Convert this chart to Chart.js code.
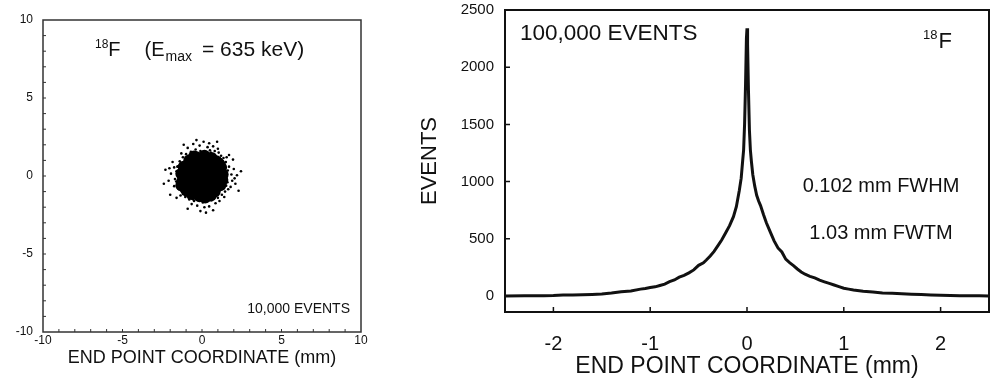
<!DOCTYPE html>
<html>
<head>
<meta charset="utf-8">
<script src="https://cdn.jsdelivr.net/npm/chart.js@4.4.0/dist/chart.umd.min.js"></script>
<style>
  html, body { margin: 0; padding: 0; background: #fff; }
  #left { position: absolute; left: 0; top: 0; width: 380px; height: 384px; }
  #right { position: absolute; left: 400px; top: 0; width: 604px; height: 384px; }
</style>
</head>
<body>
<div id="left"><canvas id="scatterChart"></canvas></div>
<div id="right"><canvas id="profileChart"></canvas></div>
<script>
// Left panel: end point positions (mm)
const scatterTicks = [-10, -5, 0, 5, 10];
const scatterMinor = [-9, -8, -7, -6, -5, -4, -3, -2, -1, 0, 1, 2, 3, 4, 5, 6, 7, 8, 9];
const coreCentre = [[0, 0], [0.3, 0.2], [-0.3, -0.2]];
const coreEdge = [
    [1.3, 0.1], [1.2, 0.55], [1.0, 0.85], [0.6, 1.15], [0.15, 1.3], [-0.35, 1.2],
    [-0.8, 1.0], [-1.15, 0.6], [-1.3, 0.15], [-1.25, -0.35], [-1.05, -0.8], [-0.65, -1.15],
    [-0.15, -1.3], [0.35, -1.25], [0.8, -1.0], [1.15, -0.6], [1.28, -0.25], [0.9, 0.95],
    [-0.95, -0.95], [0.55, -1.25], [-1.3, -0.6], [1.1, 0.75], [-0.5, 1.25], [0.2, -1.38]
];
const outerPoints = [
    [1.55, 0.2], [1.6, -0.4], [1.7, 0.6], [1.5, 0.9], [1.85, 0.1], [1.9, -0.3], [2.0, 0.45],
    [2.2, 0.05], [2.45, 0.3], [1.65, -0.85], [1.45, -1.0], [1.8, -0.7], [2.1, -0.5], [1.35, 1.15],
    [1.2, 1.3], [1.55, 1.2], [1.05, 1.5], [0.8, 1.6], [0.5, 1.65], [0.2, 1.55], [0.35, 1.85],
    [0.7, 1.9], [1.0, 1.75], [-0.1, 1.6], [-0.4, 1.7], [-0.7, 1.55], [-0.15, 1.95], [-0.55, 2.05],
    [0.1, 2.2], [0.45, 2.1], [-1.0, 1.4], [-1.2, 1.2], [-1.4, 0.95], [-1.3, 1.45], [-0.9, 1.8],
    [-1.55, 0.6], [-1.6, 0.3], [-1.75, 0.55], [-1.5, -0.05], [-1.7, -0.2], [-1.95, 0.15],
    [-2.1, -0.3], [-2.3, 0.4], [-1.85, 0.9], [-1.55, -0.5], [-1.45, -0.85], [-1.75, -0.65],
    [-1.2, -1.15], [-1.05, -1.35], [-1.35, -1.25], [-0.8, -1.5], [-0.5, -1.6], [-0.2, -1.55],
    [-0.65, -1.8], [-0.3, -1.9], [0.05, -1.7], [0.3, -1.6], [0.6, -1.55], [0.15, -2.0],
    [0.45, -1.95], [0.85, -1.75], [-0.9, -2.1], [-0.1, -2.25], [0.7, -2.2], [1.0, -1.4],
    [1.25, -1.2], [1.4, -1.35], [1.1, -1.6], [2.3, -0.95], [-2.4, -0.5], [1.95, 1.05],
    [-2.0, -1.2], [0.95, 2.2], [-1.15, 2.0], [1.4, 0.45], [1.45, -0.2], [-1.45, 0.3],
    [-1.4, -0.3], [0.3, 1.42], [-0.25, 1.45], [0.4, -1.45], [-0.4, -1.42], [1.0, 1.05],
    [-1.0, 1.05], [1.0, -1.05], [-1.05, -1.0], [0.75, 1.3], [-0.75, 1.3], [0.75, -1.3],
    [-0.7, -1.32], [1.3, 0.75], [-1.3, 0.75], [1.3, -0.75], [-1.32, -0.7],
    [1.62, 0.35], [-1.62, -0.35], [0.55, 1.5], [-0.55, -1.5], [1.52, -0.62], [-1.5, 0.62],
    [2.05, -0.15], [-2.05, 0.5], [0.25, -2.35], [-0.35, 2.3], [1.7, 1.35], [-1.6, -1.4]
];

// Right panel: 1-D profile of end points
const profileTicksX = [-2, -1, 0, 1, 2];
const profileTicksY = [0, 500, 1000, 1500, 2000, 2500];
const profileX = [
    -2.5, -2.3, -2.1, -2.0, -1.9, -1.8, -1.7, -1.6, -1.5, -1.4, -1.3, -1.2, -1.1, -1.05, -1.0,
    -0.95, -0.9, -0.85, -0.8, -0.75, -0.7, -0.65, -0.6, -0.55, -0.5, -0.45, -0.42, -0.38, -0.34,
    -0.3, -0.26, -0.22, -0.18, -0.14, -0.11, -0.08, -0.06, -0.045, -0.035, -0.025, -0.015, -0.006,
    0, 0.006, 0.015, 0.025, 0.035, 0.045, 0.06, 0.08, 0.1, 0.12, 0.14, 0.17, 0.2, 0.24, 0.28,
    0.32, 0.36, 0.4, 0.44, 0.48, 0.52, 0.56, 0.6, 0.65, 0.7, 0.75, 0.8, 0.85, 0.9, 0.95, 1.0,
    1.05, 1.1, 1.2, 1.3, 1.4, 1.5, 1.6, 1.7, 1.8, 1.9, 2.0, 2.2, 2.4, 2.5
];
const profileY = [
    0, 1, 3, 4, 8, 9, 11, 14, 18, 26, 36, 44, 60, 66, 74,
    80, 92, 104, 125, 140, 165, 180, 202, 228, 268, 290, 315, 350, 390,
    440, 492, 552, 615, 693, 780, 920, 1030, 1180, 1276, 1500, 1850, 2250,
    2340, 2200, 1800, 1450, 1276, 1180, 1060, 960, 880, 830, 790, 712, 640, 560, 482,
    420, 385, 322, 292, 266, 236, 210, 190, 172, 158, 138, 124, 110, 96, 82, 68,
    60, 52, 42, 34, 27, 23, 19, 15, 12, 9, 6, 3, 1, 0
];

const FONT = '"Liberation Sans", Arial, Helvetica, sans-serif';
const INK = '#111';

function toPts(list) {
    return list.map(p => ({ x: p[0], y: p[1] }));
}

// box around the plot area plus small inward tick marks
const framePlugin = {
    id: 'frame',
    afterDatasetsDraw(chart, args, opts) {
        const { ctx, chartArea: a, scales } = chart;
        ctx.save();
        ctx.strokeStyle = opts.color;
        ctx.lineWidth = opts.width;
        ctx.strokeRect(a.left, a.top, a.right - a.left, a.bottom - a.top);
        ctx.lineWidth = opts.tickWidth;
        ctx.beginPath();
        (opts.xTicks || []).forEach(v => {
            const px = scales.x.getPixelForValue(v);
            ctx.moveTo(px, a.bottom);
            ctx.lineTo(px, a.bottom - opts.len);
        });
        (opts.yTicks || []).forEach(v => {
            const py = scales.y.getPixelForValue(v);
            ctx.moveTo(a.left, py);
            ctx.lineTo(a.left + opts.len, py);
        });
        ctx.stroke();
        ctx.restore();
    }
};

// draw a row of text pieces (for super/subscripts)
function drawRuns(ctx, x, y, runs) {
    runs.forEach(r => {
        x += r.gap || 0;
        ctx.font = r.size + 'px ' + FONT;
        ctx.fillText(r.t, x, y + (r.dy || 0));
        x += ctx.measureText(r.t).width;
    });
}

const leftText = {
    id: 'leftText',
    afterDraw(chart) {
        const { ctx, chartArea: a } = chart;
        ctx.save();
        ctx.fillStyle = INK;
        ctx.textBaseline = 'alphabetic';
        drawRuns(ctx, a.left + 52, a.top + 36, [
            { t: '18', size: 12, dy: -8 },
            { t: 'F', size: 20 },
            { t: '(E', size: 20, gap: 24 },
            { t: 'max', size: 14, dy: 5, gap: 1 },
            { t: '= 635 keV)', size: 21, gap: 10 }
        ]);
        ctx.font = '14px ' + FONT;
        ctx.textAlign = 'right';
        ctx.fillText('10,000 EVENTS', a.right - 11, a.bottom - 19);
        ctx.restore();
    }
};

const rightText = {
    id: 'rightText',
    afterDraw(chart) {
        const { ctx, chartArea: a } = chart;
        ctx.save();
        ctx.fillStyle = INK;
        ctx.font = '22.5px ' + FONT;
        ctx.fillText('100,000 EVENTS', a.left + 15, a.top + 30);
        drawRuns(ctx, a.right - 66, a.top + 38, [
            { t: '18', size: 13, dy: -9 },
            { t: 'F', size: 22, gap: 1 }
        ]);
        ctx.font = '20px ' + FONT;
        ctx.textAlign = 'center';
        ctx.fillText('0.102 mm FWHM', a.right - 108, a.top + 182);
        ctx.fillText('1.03 mm FWTM', a.right - 108, a.top + 229);
        ctx.restore();
    }
};

const plainNumber = v => String(v);

document.addEventListener('DOMContentLoaded', function() {
    // scatter of end points
    new Chart(document.getElementById('scatterChart'), {
        type: 'scatter',
        data: {
            datasets: [
                { data: toPts(coreCentre), pointRadius: 19, backgroundColor: '#000', borderWidth: 0 },
                { data: toPts(coreEdge), pointRadius: 6, backgroundColor: '#000', borderWidth: 0 },
                { data: toPts(outerPoints), pointRadius: 1.3, backgroundColor: '#000', borderWidth: 0 }
            ]
        },
        options: {
            responsive: true,
            maintainAspectRatio: false,
            animation: false,
            events: [],
            layout: { padding: { top: 20, right: 17, left: 0, bottom: 0 } },
            plugins: {
                legend: { display: false },
                tooltip: { enabled: false },
                frame: { color: '#333', width: 1.5, tickWidth: 1, len: 3, xTicks: scatterMinor, yTicks: scatterMinor }
            },
            scales: {
                x: {
                    type: 'linear', min: -10, max: 10,
                    afterBuildTicks: s => { s.ticks = scatterTicks.map(v => ({ value: v })); },
                    afterFit: s => { s.height = 52; },
                    grid: { display: false, drawTicks: false },
                    border: { display: false },
                    ticks: { font: { family: FONT, size: 12 }, color: INK, padding: 1, callback: plainNumber },
                    title: {
                        display: true, text: 'END POINT COORDINATE (mm)',
                        font: { family: FONT, size: 18 }, color: INK,
                        padding: { top: 0, bottom: 15 }
                    }
                },
                y: {
                    type: 'linear', min: -10, max: 10,
                    afterBuildTicks: s => { s.ticks = scatterTicks.map(v => ({ value: v })); },
                    afterFit: s => { s.width = 43; },
                    grid: { display: false, drawTicks: false },
                    border: { display: false },
                    ticks: { font: { family: FONT, size: 12 }, color: INK, padding: 10, callback: plainNumber }
                }
            }
        },
        plugins: [framePlugin, leftText]
    });

    // profile along one coordinate
    new Chart(document.getElementById('profileChart'), {
        type: 'scatter',
        data: {
            datasets: [{
                data: profileX.map((x, i) => ({ x: x, y: profileY[i] })),
                showLine: true,
                borderColor: INK,
                borderWidth: 3,
                pointRadius: 0,
                tension: 0
            }]
        },
        options: {
            responsive: true,
            maintainAspectRatio: false,
            animation: false,
            events: [],
            layout: { padding: { top: 10, right: 15, left: 0, bottom: 0 } },
            plugins: {
                legend: { display: false },
                tooltip: { enabled: false },
                frame: { color: INK, width: 2, tickWidth: 1.5, len: 5, xTicks: profileTicksX, yTicks: [500, 1000, 1500, 2000] }
            },
            scales: {
                x: {
                    type: 'linear', min: -2.5, max: 2.5,
                    afterBuildTicks: s => { s.ticks = profileTicksX.map(v => ({ value: v })); },
                    afterFit: s => { s.height = 72; },
                    grid: { display: false, drawTicks: false },
                    border: { display: false },
                    ticks: { font: { family: FONT, size: 20 }, color: INK, padding: 20, callback: plainNumber },
                    title: {
                        display: true, text: 'END POINT COORDINATE (mm)',
                        font: { family: FONT, size: 23 }, color: INK,
                        padding: { top: 0, bottom: 4 }
                    }
                },
                y: {
                    type: 'linear', min: -140, max: 2500,
                    afterBuildTicks: s => { s.ticks = profileTicksY.map(v => ({ value: v })); },
                    afterFit: s => { s.width = 105; s.paddingTop = 0; },
                    grid: { display: false, drawTicks: false },
                    border: { display: false },
                    ticks: { font: { family: FONT, size: 15 }, color: INK, padding: 11, callback: plainNumber },
                    title: {
                        display: true, text: 'EVENTS',
                        font: { family: FONT, size: 22 }, color: INK,
                        padding: { top: 17, bottom: 0 }
                    }
                }
            }
        },
        plugins: [framePlugin, rightText]
    });
});
</script>
</body>
</html>
